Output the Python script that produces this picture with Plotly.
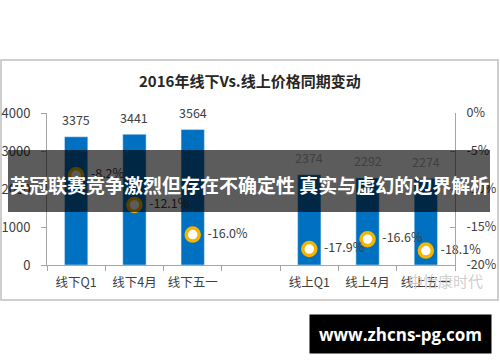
import plotly.graph_objects as go

categories = ["线下Q1", "线下4月", "线下五一", " ", "线上Q1", "线上4月", "线上五一"]
prices = [3375, 3441, 3564, None, 2374, 2292, 2274]
changes = [-8.2, -12.1, -16.0, None, -17.9, -16.6, -18.1]
change_labels = ["-8.2%", "-12.1%", "-16.0%", "", "-17.9%", "-16.6%", "-18.1%"]
left_ticks = [0, 1000, 2000, 3000, 4000]
right_ticks = [-20, -15, -10, -5, 0]
right_tick_text = ["-20%", "-15%", "-10%", "-5%", "0%"]

FONT = "Noto Sans CJK SC"
W, H = 500, 362
L, R, T, B = 47, 45, 113, 97
pw, ph = W - L - R, H - T - B


def px(x):
    return (x - L) / pw


def py(y):
    return (H - B - y) / ph


fig = go.Figure()
fig.add_trace(go.Bar(
    x=categories, y=prices, marker_color="#0070C0", width=0.4,
    showlegend=False, hoverinfo="x+y",
))
fig.add_trace(go.Scatter(
    x=categories, y=changes, yaxis="y2", mode="markers+text",
    marker=dict(size=13, color="white", line=dict(color="#F4B400", width=3.5)),
    text=["  " + t for t in change_labels], textposition="middle right",
    textfont=dict(family=FONT, size=12.5, color="#404040"),
    cliponaxis=False, showlegend=False,
))

bar_labels = [
    dict(x=c, y=v, xref="x", yref="y", text=str(v), showarrow=False,
         yshift=17, font=dict(family=FONT, size=12.5, color="#404040"))
    for c, v in zip(categories, prices) if v is not None
]

axis_color = "#A6A6A6"
fig.update_layout(
    width=W, height=H, autosize=False,
    margin=dict(l=L, r=R, t=T, b=B, pad=0, autoexpand=False),
    paper_bgcolor="white", plot_bgcolor="white",
    font=dict(family=FONT, size=12, color="#404040"),
    xaxis=dict(
        type="category", categoryorder="array", categoryarray=categories,
        range=[-0.5, 6.5], showline=True, linecolor=axis_color, linewidth=1,
        ticks="outside", tickson="boundaries", ticklen=5, tickcolor=axis_color,
        showgrid=False, tickangle=0, automargin=False, ticklabelstandoff=6,
        tickfont=dict(size=12.5, color="#404040"),
    ),
    yaxis=dict(
        range=[0, 4000], tickvals=left_ticks, showline=True, linecolor=axis_color,
        ticks="outside", ticklen=5, tickcolor=axis_color, showgrid=False,
        zeroline=False, ticklabelstandoff=8, automargin=False,
        ticklabeloverflow="allow",
        tickfont=dict(size=13, color="#404040"),
    ),
    yaxis2=dict(
        range=[-20, 0], tickvals=right_ticks, ticktext=right_tick_text,
        overlaying="y", side="right", showline=True, linecolor=axis_color,
        ticks="inside", ticklen=5, tickcolor=axis_color, showgrid=False,
        zeroline=False, ticklabelstandoff=8, automargin=False,
        ticklabeloverflow="allow",
        tickfont=dict(size=12.5, color="#404040"),
    ),
    shapes=[
        dict(type="rect", xref="paper", yref="paper",
             x0=px(1), x1=px(498), y0=py(300), y1=py(60),
             line=dict(color="#BFBFBF", width=1.5), fillcolor="rgba(0,0,0,0)",
             layer="below"),
        dict(type="rect", xref="paper", yref="paper",
             x0=px(8), x1=px(490), y0=py(212), y1=py(150),
             line=dict(width=0), fillcolor="rgba(0,0,0,0.64)", layer="above"),
    ],
    annotations=bar_labels + [
        dict(text="<b>2016年线下Vs.线上价格同期变动</b>", xref="paper", yref="paper",
             x=px(250), y=py(80), xanchor="center", yanchor="middle",
             showarrow=False, font=dict(family=FONT, size=15, color="#262626")),
        dict(text="中怡康时代", xref="paper", yref="paper",
             x=px(445), y=py(280), xanchor="center", yanchor="middle",
             showarrow=False, font=dict(family=FONT, size=15, color="#D0D0D0")),
        dict(text="<b>英冠联赛竞争激烈但存在不确定性 真实与虚幻的边界解析</b>",
             xref="paper", yref="paper", x=px(249), y=py(184),
             xanchor="center", yanchor="middle", showarrow=False,
             font=dict(family=FONT, size=19, color="white")),
        dict(text="<b>www.zhcns-pg.com</b>", xref="paper", yref="paper",
             x=px(400.5), y=py(334), showarrow=False, xanchor="center",
             yanchor="middle", width=181, height=38, bgcolor="black",
             borderpad=0, align="center", valign="middle",
             font=dict(family="Open Sans", size=17, color="white")),
    ],
)

fig.write_html("out.html", config={"displayModeBar": False},
               post_script="document.body.style.margin='0';")
